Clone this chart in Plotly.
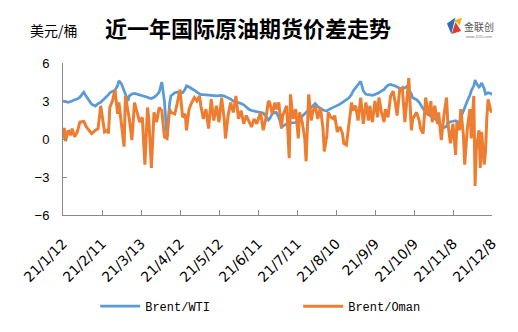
import plotly.graph_objects as go

# Daily spread series (USD/bbl)
dates = [
    "2021-01-12", "2021-01-13", "2021-01-14", "2021-01-16", "2021-01-18", "2021-01-19",
    "2021-01-21", "2021-01-23", "2021-01-25", "2021-01-28", "2021-01-30", "2021-02-01",
    "2021-02-03", "2021-02-06", "2021-02-08", "2021-02-10", "2021-02-11", "2021-02-13",
    "2021-02-15", "2021-02-16", "2021-02-17", "2021-02-19", "2021-02-21", "2021-02-23",
    "2021-02-24", "2021-02-26", "2021-02-28", "2021-03-01", "2021-03-03", "2021-03-04",
    "2021-03-06", "2021-03-08", "2021-03-10", "2021-03-12", "2021-03-14", "2021-03-16",
    "2021-03-18", "2021-03-19", "2021-03-21", "2021-03-23", "2021-03-25", "2021-03-27",
    "2021-03-29", "2021-03-31", "2021-04-02", "2021-04-04", "2021-04-05", "2021-04-08",
    "2021-04-10", "2021-04-12", "2021-04-14", "2021-04-16", "2021-04-17", "2021-04-19",
    "2021-04-21", "2021-04-23", "2021-04-25", "2021-04-27", "2021-04-28", "2021-04-30",
    "2021-05-02", "2021-05-04", "2021-05-06", "2021-05-08", "2021-05-10", "2021-05-12",
    "2021-05-14", "2021-05-16", "2021-05-17", "2021-05-19", "2021-05-21", "2021-05-23",
    "2021-05-25", "2021-05-27", "2021-05-29", "2021-05-31", "2021-06-02", "2021-06-04",
    "2021-06-06", "2021-06-08", "2021-06-10", "2021-06-13", "2021-06-15", "2021-06-17",
    "2021-06-19", "2021-06-20", "2021-06-22", "2021-06-24", "2021-06-25", "2021-06-27",
    "2021-06-29", "2021-06-30", "2021-07-03", "2021-07-05", "2021-07-06", "2021-07-08",
    "2021-07-10", "2021-07-12", "2021-07-13", "2021-07-15", "2021-07-17", "2021-07-18",
    "2021-07-20", "2021-07-22", "2021-07-23", "2021-07-25", "2021-07-27", "2021-07-29",
    "2021-07-31", "2021-08-01", "2021-08-03", "2021-08-04", "2021-08-06", "2021-08-08",
    "2021-08-09", "2021-08-11", "2021-08-13", "2021-08-15", "2021-08-16", "2021-08-18",
    "2021-08-20", "2021-08-22", "2021-08-23", "2021-08-25", "2021-08-27", "2021-08-29",
    "2021-08-31", "2021-09-02", "2021-09-04", "2021-09-05", "2021-09-07", "2021-09-09",
    "2021-09-11", "2021-09-12", "2021-09-14", "2021-09-16", "2021-09-17", "2021-09-19",
    "2021-09-21", "2021-09-23", "2021-09-25", "2021-09-26", "2021-09-28", "2021-09-30",
    "2021-10-02", "2021-10-04", "2021-10-05", "2021-10-07", "2021-10-08", "2021-10-11",
    "2021-10-13", "2021-10-14", "2021-10-16", "2021-10-18", "2021-10-20", "2021-10-22",
    "2021-10-23", "2021-10-25", "2021-10-27", "2021-10-28", "2021-10-30", "2021-11-01",
    "2021-11-03", "2021-11-04", "2021-11-06", "2021-11-08", "2021-11-10", "2021-11-11",
    "2021-11-13", "2021-11-14", "2021-11-16", "2021-11-17", "2021-11-19", "2021-11-21",
    "2021-11-22", "2021-11-24", "2021-11-25", "2021-11-26", "2021-11-28", "2021-11-29",
    "2021-11-30", "2021-12-02", "2021-12-03", "2021-12-04", "2021-12-05", "2021-12-07",
    "2021-12-08",
]

brent_wti = [
    3.0, 3.0, 2.95, 2.9, 2.95, 3.0, 3.1, 3.15, 3.3, 3.7, 3.35, 3.05,
    2.75, 2.6, 2.8, 2.9, 3.0, 3.15, 3.35, 3.5, 3.65, 3.75, 3.86, 4.2,
    4.6, 4.35, 3.8, 3.4, 3.0, 3.4, 3.55, 3.6, 3.55, 3.5, 3.4, 3.35,
    3.3, 3.25, 3.2, 3.3, 3.45, 3.7, 4.5, 3.0, 0.17, 2.8, 3.4, 3.65,
    3.7, 3.68, 3.65, 3.95, 4.2, 4.1, 4.0, 3.85, 3.7, 3.6, 3.5, 3.5,
    3.47, 3.45, 3.43, 3.4, 3.4, 3.42, 3.45, 3.4, 3.35, 3.3, 3.15, 3.0,
    2.95, 2.9, 2.8, 2.7, 2.5, 2.35, 2.25, 2.2, 2.15, 2.1, 2.05, 1.8,
    1.5, 1.6, 2.0, 2.1, 2.1, 1.7, 1.05, 1.0, 1.2, 1.25, 1.25, 1.28,
    1.3, 1.4, 1.6, 1.8, 2.0, 2.1, 2.25, 2.45, 2.6, 2.8, 2.55, 2.4,
    2.3, 2.25, 2.22, 2.3, 2.4, 2.5, 2.55, 2.6, 2.75, 2.9, 2.98, 3.1,
    3.25, 3.53, 3.75, 4.04, 4.3, 4.56, 3.8, 3.53, 3.5, 3.47, 3.45, 3.52,
    3.6, 3.65, 3.8, 3.9, 4.05, 4.25, 4.3, 4.25, 4.17, 4.1, 4.0, 3.91,
    4.05, 4.17, 3.9, 3.55, 3.25, 3.1, 2.9, 2.7, 2.4, 2.1, 1.9, 1.82,
    1.7, 1.6, 1.45, 1.25, 1.0, 0.9, 1.0, 1.25, 1.36, 1.4, 1.45, 1.4,
    1.2, 1.7, 2.25, 2.55, 3.0, 3.45, 3.8, 4.2, 4.65, 4.4, 4.1, 4.2,
    4.43, 4.0, 3.55, 3.6, 3.65, 3.6, 3.5,
]

brent_oman = [
    0.04, 0.87, -0.16, 0.69, 0.3, 0.82, 0.17, 0.56, 1.33, 1.38, 0.95, 0.69,
    0.43, 0.69, 0.82, 2.62, 1.98, 0.56, 0.69, 0.43, 2.49, 3.0, 3.9, 1.98,
    2.88, 1.07, -0.6, 3.4, 2.36, 1.59, -0.09, 2.88, 2.1, 1.33, 1.72, -2.02,
    2.49, 1.59, -2.28, 2.1, 1.33, 2.49, 2.24, 0.17, 0.04, 2.36, 2.1, 1.98,
    2.88, 3.9, 1.72, 1.98, 0.69, 2.36, 2.88, 3.27, 3.0, 3.4, 2.62, 1.59,
    2.36, 0.82, 3.14, 1.46, 2.62, 1.33, 3.27, 1.59, 0.04, 1.85, 2.88, 2.1,
    3.4, 1.59, 2.24, 1.2, 1.85, 1.46, 0.95, 1.59, 1.2, 2.1, 0.69, 1.59,
    3.0, 2.88, 1.98, 2.88, 2.36, 2.88, 0.82, 1.85, 2.62, -1.51, 3.53, 1.59,
    2.36, 0.04, 2.1, 1.33, 0.04, -1.76, 3.53, 1.46, 2.1, 2.62, 1.59, 2.49,
    0.82, -0.99, 0.3, 2.1, 1.72, 1.59, 1.85, 0.56, 0.95, 0.43, -0.34, -0.47,
    1.33, 2.88, 2.24, 2.62, 1.46, 3.27, 1.2, 2.88, 1.46, 2.62, 1.33, 3.0,
    1.72, 3.27, 2.1, 1.33, 2.36, 1.72, 3.4, 3.78, 2.62, 1.85, 3.91, 4.04,
    1.33, 3.91, 4.82, 0.69, 1.59, 2.1, 1.46, 0.82, 0.43, 3.27, 1.85, 3.0,
    1.33, 2.62, 1.2, 2.1, -0.09, 1.85, 3.27, 1.33, -0.34, 1.2, -1.25, 1.33,
    0.69, 2.36, 0.3, -2.02, 0.82, 2.36, 0.04, 3.4, -3.7, -0.73, 0.69, -2.28,
    0.56, -2.02, -0.99, 1.59, 3.14, 2.24, 2.1,
]

tick_dates = [
    "2021-01-12", "2021-02-11", "2021-03-13", "2021-04-12", "2021-05-12", "2021-06-11",
    "2021-07-11", "2021-08-10", "2021-09-09", "2021-10-09", "2021-11-08", "2021-12-08",
]
tick_text = [
    "21/1/12", "21/2/11", "21/3/13", "21/4/12", "21/5/12", "21/6/11",
    "21/7/11", "21/8/10", "21/9/9", "21/10/9", "21/11/8", "21/12/8",
]
y_ticks = [-6, -3, 0, 3, 6]
y_text = ["\u22126", "\u22123", "0", "3", "6"]

fig = go.Figure()
fig.add_trace(go.Scatter(
    x=dates, y=brent_wti, mode="lines", name="Brent/WTI",
    line=dict(color="#5B9BD5", width=2.75),
))
fig.add_trace(go.Scatter(
    x=dates, y=brent_oman, mode="lines", name="Brent/Oman",
    line=dict(color="#ED7D31", width=3),
))

fig.update_layout(
    width=518, height=332,
    margin=dict(l=63, r=26, t=63, b=114),
    paper_bgcolor="#ffffff", plot_bgcolor="#ffffff",
    showlegend=True,
    legend=dict(
        orientation="h", x=0.075, y=-0.6, xanchor="left", yanchor="middle",
        entrywidth=148, entrywidthmode="pixels",
        font=dict(family="Liberation Mono, DejaVu Sans Mono, monospace", size=12, color="#000000"),
        itemwidth=40,
    ),
    xaxis=dict(
        type="date",
        range=["2021-01-12", "2021-12-08"],
        tickmode="array", tickvals=tick_dates, ticktext=tick_text,
        tickangle=-45,
        tickfont=dict(family="DejaVu Sans, sans-serif", size=14, color="#000000"),
        ticklabelstandoff=14,
        showgrid=False, zeroline=False,
        showline=True, linecolor="#898989", linewidth=1,
        ticks="inside", ticklen=5, tickcolor="#898989",
    ),
    yaxis=dict(
        range=[-6, 6],
        tickmode="array", tickvals=y_ticks, ticktext=y_text,
        tickfont=dict(family="Liberation Sans, Arial, sans-serif", size=13, color="#000000"),
        ticklabelstandoff=10,
        showgrid=False, zeroline=False,
        showline=True, linecolor="#898989", linewidth=1,
        ticks="inside", ticklen=4, tickcolor="#898989",
    ),
    annotations=[
        dict(
            text="<b>近一年国际原油期货价差走势</b>",
            xref="paper", yref="paper", x=0.431, y=1.235,
            xanchor="center", yanchor="middle", showarrow=False,
            font=dict(family="Noto Sans CJK SC", size=22, color="#000000"),
        ),
        dict(
            text="美元/桶",
            xref="paper", yref="paper", x=-0.021, y=1.215,
            xanchor="center", yanchor="middle", showarrow=False,
            font=dict(family="Noto Sans CJK SC", size=14, color="#000000"),
        ),
        dict(
            text="金联创",
            xref="paper", yref="paper", x=0.93, y=1.24,
            xanchor="left", yanchor="middle", showarrow=False,
            font=dict(family="Noto Sans CJK SC", size=10, color="#555555"),
        ),
        dict(
            text="www.315i.com",
            xref="paper", yref="paper", x=0.935, y=1.175,
            xanchor="left", yanchor="middle", showarrow=False,
            font=dict(family="Liberation Sans", size=4, color="#777777"),
        ),
    ],
    shapes=[
        # small three-colour brand mark
        dict(type="path", xref="paper", yref="paper",
             path="M 0.895 1.26 L 0.915 1.30 L 0.905 1.19 Z",
             fillcolor="#2F6DB5", line=dict(width=0)),
        dict(type="path", xref="paper", yref="paper",
             path="M 0.906 1.19 L 0.928 1.21 L 0.915 1.27 Z",
             fillcolor="#E03A2F", line=dict(width=0)),
        dict(type="path", xref="paper", yref="paper",
             path="M 0.912 1.28 L 0.93 1.30 L 0.925 1.25 Z",
             fillcolor="#F2B31B", line=dict(width=0)),
    ],
)

fig.write_html("out.html")
